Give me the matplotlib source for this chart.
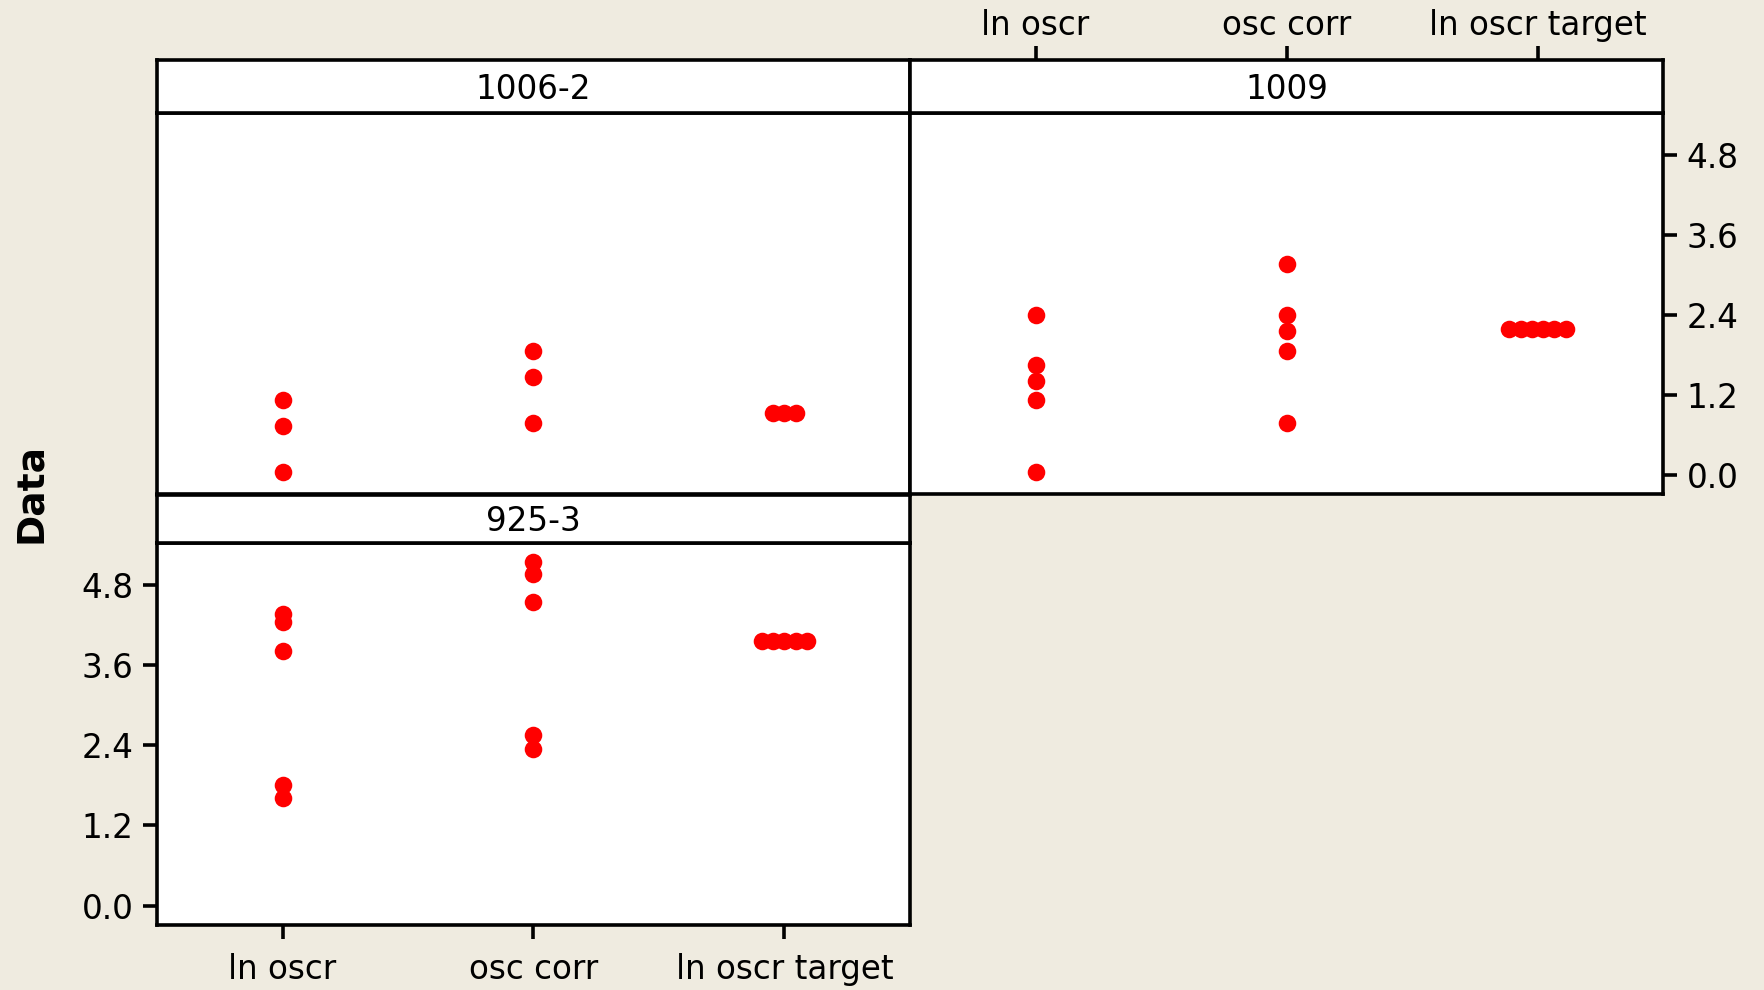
import numpy as np
import matplotlib
matplotlib.use("Agg")
import matplotlib.pyplot as plt

# categorias e grupos (painéis)
categorias = ["ln oscr", "osc corr", "ln oscr target"]
paineis = ["1006-2", "1009", "925-3"]

# valores individuais por painel
ln_oscr_1006_2 = [1.12, 0.73, 0.04]
osc_corr_1006_2 = [1.85, 1.46, 0.78]
alvo_1006_2 = [0.93, 0.93, 0.93]

ln_oscr_1009 = [2.39, 1.65, 1.41, 1.12, 0.04]
osc_corr_1009 = [3.17, 2.39, 2.15, 1.85, 0.78]
alvo_1009 = [2.19, 2.19, 2.19, 2.19, 2.19, 2.19]

ln_oscr_925_3 = [4.37, 4.25, 3.81, 1.80, 1.61]
osc_corr_925_3 = [5.15, 4.97, 4.54, 2.55, 2.34]
alvo_925_3 = [3.96, 3.96, 3.96, 3.96, 3.96]

marcas_y = [0.0, 1.2, 2.4, 3.6, 4.8]

dados = {
    "1006-2": [ln_oscr_1006_2, osc_corr_1006_2, alvo_1006_2],
    "1009": [ln_oscr_1009, osc_corr_1009, alvo_1009],
    "925-3": [ln_oscr_925_3, osc_corr_925_3, alvo_925_3],
}

FUNDO = "#EFEBE0"
VERMELHO = "#FF0000"
W, H = 1764, 990
LW = 2.6
FS = 23.5

plt.rcParams["font.family"] = ["DejaVu Sans"]

fig = plt.figure(figsize=(W / 100, H / 100), dpi=100, facecolor=FUNDO)


def caixa(x0, y0, x1, y1):
    """Converte uma caixa em pixels (topo-esquerda) para fracções da figura."""
    return [x0 / W, 1 - y1 / H, (x1 - x0) / W, (y1 - y0) / H]


# posições dos painéis em pixels: (x0, x1, topo da faixa, topo dos dados, base)
layout = {
    "1006-2": (157, 910, 60, 113, 494),
    "1009": (910, 1663, 60, 113, 494),
    "925-3": (157, 910, 495, 543, 925),
}


def espalhar_empates(valores, centro, passo=0.045):
    """Valores iguais ficam lado a lado, centrados na categoria."""
    xs = np.zeros(len(valores))
    vals = np.asarray(valores)
    for v in np.unique(vals):
        idx = np.where(vals == v)[0]
        n = len(idx)
        xs[idx] = centro + (np.arange(n) - (n - 1) / 2) * passo
    return xs


for nome in paineis:
    x0, x1, yf, yd, yb = layout[nome]
    ax = fig.add_axes(caixa(x0, yd, x1, yb))
    faixa = fig.add_axes(caixa(x0, yf, x1, yd))

    for i, valores in enumerate(dados[nome]):
        xs = espalhar_empates(valores, i + 1)
        ax.scatter(xs, valores, s=160, color=VERMELHO, linewidths=0, zorder=3)

    ax.set_xlim(0.5, 3.5)
    ax.set_ylim(-0.29, 5.43)
    ax.set_facecolor("white")
    for s in ax.spines.values():
        s.set_linewidth(LW)
    ax.tick_params(length=10, width=LW, labelsize=FS, pad=7)

    faixa.set_xlim(0.5, 3.5)
    faixa.set_facecolor("white")
    for s in faixa.spines.values():
        s.set_linewidth(LW)
    faixa.set_yticks([])
    faixa.set_xticks([])
    faixa.text(0.5, 0.45, nome, transform=faixa.transAxes, ha="center",
               va="center", fontsize=FS)

    if nome == "1006-2":
        ax.set_xticks([])
        ax.set_yticks([])
    elif nome == "1009":
        ax.set_xticks([])
        ax.yaxis.tick_right()
        ax.set_yticks(marcas_y)
        ax.set_yticklabels([f"{v:.1f}" for v in marcas_y])
        faixa.set_xticks([1, 2, 3])
        faixa.set_xticklabels(categorias)
        faixa.xaxis.tick_top()
        faixa.tick_params(length=10, width=LW, labelsize=FS, pad=3)
    else:
        ax.set_yticks(marcas_y)
        ax.set_yticklabels([f"{v:.1f}" for v in marcas_y])
        ax.set_xticks([1, 2, 3])
        ax.set_xticklabels(categorias)
        ax.tick_params(axis="x", pad=10)

fig.text(31 / W, 1 - 493 / H, "Data", rotation=90, ha="center", va="center",
         fontsize=27, fontweight="bold")

fig.savefig("out.png", dpi=100, facecolor=FUNDO)
